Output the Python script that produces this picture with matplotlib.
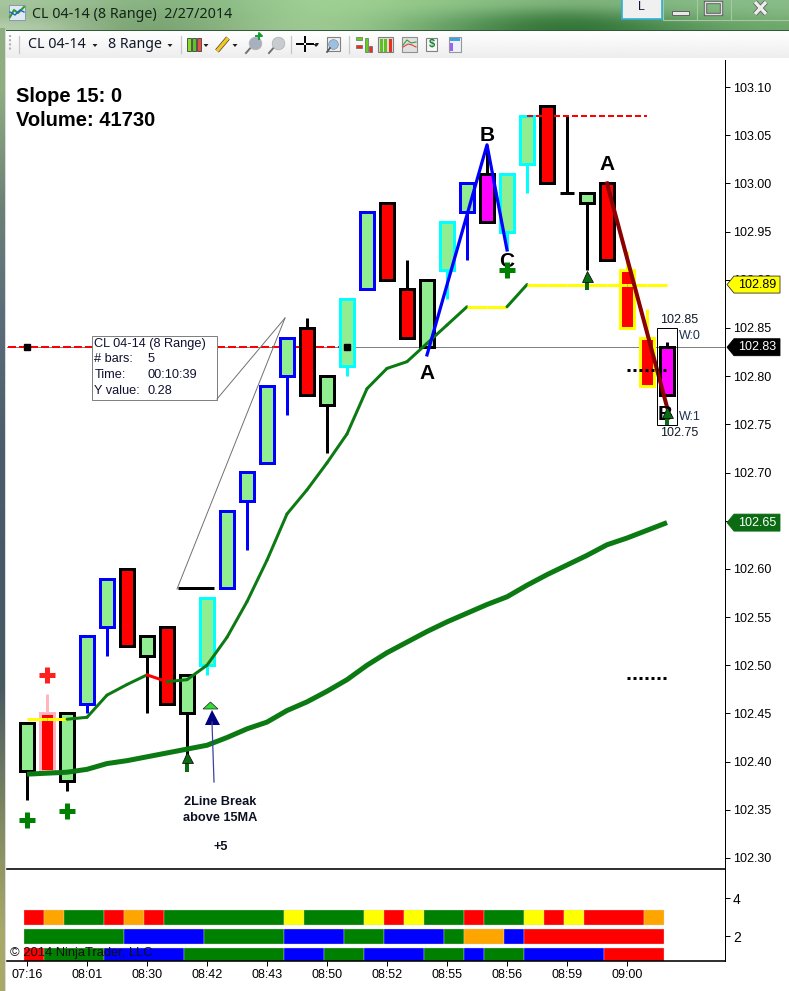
#!/usr/bin/env python3
"""NinjaTrader CL 04-14 8 Range chart, window frame included."""

import matplotlib
matplotlib.use("Agg")
import matplotlib.pyplot as plt
import numpy as np
from matplotlib.patches import Polygon, Rectangle

W, H = 789, 991
PX = 0.72  # 1 px in points at dpi 100
FS = 9
plt.rcParams["font.family"] = ["Liberation Sans", "DejaVu Sans"]

LG, RD, MG = "#90EE90", "#FF0000", "#FF00FF"
BK, BL, CY, PK, YL = "#000000", "#0000FF", "#00FFFF", "#FFB6C1", "#FFFF00"

# bars
body_top = [102.44, 102.45, 102.45, 102.53, 102.59, 102.60, 102.53, 102.54, 102.49, 102.57, 102.66,
            102.70, 102.79, 102.84, 102.85, 102.80, 102.88, 102.97, 102.98, 102.89, 102.90, 102.96,
            103.00, 103.01, 103.01, 103.07, 103.08, 102.99, 102.99, 103.00, 102.91, 102.84, 102.83]
body_bot = [102.39, 102.39, 102.38, 102.46, 102.54, 102.52, 102.51, 102.46, 102.45, 102.50, 102.58,
            102.67, 102.71, 102.80, 102.78, 102.77, 102.81, 102.89, 102.90, 102.84, 102.83, 102.91,
            102.97, 102.96, 102.95, 103.02, 103.00, 102.99, 102.98, 102.92, 102.85, 102.79, 102.78]
bar_high = [102.44, 102.47, 102.45, 102.53, 102.59, 102.60, 102.53, 102.54, 102.49, 102.57, 102.66,
            102.70, 102.79, 102.84, 102.86, 102.80, 102.88, 102.97, 102.98, 102.92, 102.90, 102.96,
            103.00, 103.04, 103.01, 103.07, 103.08, 103.07, 102.99, 103.00, 102.93, 102.87, 102.835]
bar_low = [102.36, 102.39, 102.37, 102.45, 102.51, 102.52, 102.45, 102.46, 102.39, 102.49, 102.58,
           102.62, 102.71, 102.76, 102.78, 102.72, 102.80, 102.89, 102.90, 102.84, 102.83, 102.88,
           102.92, 102.96, 102.93, 102.99, 103.00, 102.99, 102.91, 102.92, 102.85, 102.79, 102.78]
body_col = [LG, RD, LG, LG, LG, RD, LG, RD, LG, LG, LG, LG, LG, LG, RD, LG, LG, LG, RD, RD, LG, LG,
            LG, MG, LG, LG, RD, LG, LG, RD, RD, RD, MG]
edge_col = [BK, PK, BK, BL, BL, BK, BK, BK, BK, CY, BL, BL, BL, BL, BK, BK, CY, BL, BK, BK, BK, CY,
            BL, BK, CY, CY, BK, BK, BK, BK, YL, YL, BK]

# moving averages
ma_thin = [102.444, 102.444, 102.444, 102.446, 102.469, 102.480, 102.490, 102.483, 102.485, 102.500,
           102.529, 102.566, 102.609, 102.657, 102.682, 102.710, 102.740, 102.787, 102.808, 102.815,
           102.834, 102.853, 102.872, 102.872, 102.872, 102.895, 102.895, 102.895, 102.895, 102.895,
           102.895, 102.895, 102.895]
ma_thick = [102.387, 102.388, 102.389, 102.392, 102.398, 102.401, 102.405, 102.409, 102.413, 102.417,
            102.425, 102.434, 102.441, 102.453, 102.462, 102.473, 102.485, 102.500, 102.513, 102.524,
            102.535, 102.545, 102.554, 102.563, 102.571, 102.583, 102.594, 102.604, 102.614, 102.625,
            102.632, 102.640, 102.648]

# markers on the price panel
plus_bar = [0, 2, 24, 1]
plus_price = [102.339, 102.349, 102.910, 102.490]
plus_col = ["#008000", "#008000", "#008000", "#FF2020"]
arrow_bar = [8, 28, 32]
arrow_top = [102.405, 102.904, 102.763]
arrow_bot = [102.389, 102.889, 102.749]
abc_text = ["A", "B", "C", "A", "B"]
abc_bar = [20, 23, 24, 29, 31.9]
abc_price = [102.803, 103.05, 102.919, 103.02, 102.76]
wave_up_bar = [20, 23, 24]
wave_up_price = [102.822, 103.04, 102.931]
wave_dn_bar = [29, 32]
wave_dn_price = [103.00, 102.768]

price_ticks = [103.10, 103.05, 103.00, 102.95, 102.90, 102.85, 102.80, 102.75, 102.70, 102.65,
               102.60, 102.55, 102.50, 102.45, 102.40, 102.35, 102.30]
tags = [("102.89", 102.895, YL, BK), ("102.83", 102.83, BK, "white"), ("102.65", 102.648, "#0B6B12", "white")]

# lower panel, colour and run length of each row
row_vals = [2.97, 1.97, 0.97]
row_runs = [
    [(RD, 1), ("orange", 1), ("green", 2), (RD, 1), ("orange", 1), (RD, 1), ("green", 6), (YL, 1),
     ("green", 3), (YL, 1), (RD, 1), (YL, 1), ("green", 2), (RD, 1), ("green", 2), (YL, 1), (RD, 1),
     (YL, 1), (RD, 3), ("orange", 1)],
    [("green", 5), (BL, 4), ("green", 4), (BL, 3), ("green", 2), (BL, 3), ("green", 1), ("orange", 2),
     (BL, 1), (RD, 7)],
    [(RD, 1), ("green", 3), (BL, 4), ("green", 5), (BL, 2), ("green", 2), (BL, 3), ("green", 2), (BL, 1),
     ("green", 2), (BL, 4), (RD, 3)],
]
time_labels = ["07:16", "08:01", "08:30", "08:42", "08:43", "08:50", "08:52", "08:55", "08:56", "08:59", "09:00"]

fig = plt.figure(figsize=(W / 100, H / 100), dpi=100, facecolor="white")


def axes_px(x0, y0, x1, y1, z):
    return fig.add_axes([x0 / W, 1 - y1 / H, (x1 - x0) / W, (y1 - y0) / H], zorder=z)


# ---- window frame
bg = axes_px(0, 0, W, H, 0)
bg.axis("off")
title_cols = np.array([
    ["#a8c8a0", "#86b080", "#8ab884", "#a4d498", "#98cc8c", "#8ac084", "#7cb078", "#84b884", "#88bc88"],
    ["#9cbc90", "#7aa672", "#86b47e", "#a2d296", "#90c488", "#6aa46a", "#3c7c40", "#70a870", "#80b47e"],
    ["#b8d0b0", "#6f9a68", "#88b07e", "#a8d09c", "#88bc80", "#4e8c50", "#286a2c", "#4a8a4e", "#6ea86c"],
])
rgb = matplotlib.colors.to_rgba_array(title_cols.ravel())[:, :3].reshape(3, 9, 3)
bg.imshow(rgb, extent=(0, W, 30, 0), aspect="auto", interpolation="bicubic", zorder=1)
side_cols = ["#8fae80", "#6c8078", "#5a6a78", "#4c5c6c", "#485868", "#4a5a60", "#7c8660", "#a8a868"]
side = matplotlib.colors.to_rgba_array(side_cols)[:, :3].reshape(-1, 1, 3)
bg.imshow(side, extent=(0, 5, H, 28), aspect="auto", interpolation="bilinear", zorder=1)
bg.add_patch(Rectangle((5, 30), W, 1.5, fc="#2f5a38", ec="none", zorder=2))
grad = np.linspace(1, 0.93, 30).reshape(-1, 1)
bg.imshow(grad, extent=(6, W, 58, 31), aspect="auto", cmap="gray", vmin=0, vmax=1, zorder=2)
bg.set_xlim(0, W)
bg.set_ylim(H, 0)
bg.add_patch(Rectangle((5, 30), 1.2, H, fc="#d8dce0", ec="none", zorder=2))

bg.text(32, 14, "CL 04-14 (8 Range)  2/27/2014", fontsize=10.3, family="Noto Sans", color="#14241a", va="center", zorder=4)
bg.text(28, 45, "CL 04-14", fontsize=10.3, family="Noto Sans", color="#101828", va="center", zorder=4)
bg.text(108, 45, "8 Range", fontsize=10.2, family="Noto Sans", color="#101828", va="center", zorder=4)

# title and toolbar icons
bg.add_patch(Rectangle((9, 5), 16, 15, fc="#dfe8f4", ec="#8090a8", lw=0.6, zorder=4))
bg.plot([10, 14, 18, 24], [17, 10, 13, 7], color="#2aa02a", lw=1.5, zorder=5)
bg.plot([10, 15, 20, 24], [12, 15, 10, 12], color="#2060c0", lw=1, zorder=5)
for x in [95, 170, 206, 235, 316]:
    bg.add_patch(Polygon([(x - 2.5, 44), (x + 2.5, 44), (x, 47)], fc="#202020", ec="none", zorder=5))
for x in [19, 181, 291, 349]:
    bg.plot([x, x], [36, 53], color="#c8c8c8", lw=0.9, zorder=4)
bg.plot([10, 10], [35, 50], color="#b0b0b0", lw=1.5, ls=(0, (1, 1)), zorder=4)
for x, c in [(189, "#80e020"), (194, "#60c030"), (199, "#e85040")]:
    bg.add_patch(Rectangle((x - 2, 38), 4, 13, fc=c, ec="#404040", lw=0.6, zorder=5))
bg.plot([217, 228], [51, 38], color="#404040", lw=3.4, solid_capstyle="butt", zorder=5)
bg.plot([217, 228], [51, 38], color="#f4c820", lw=2.4, solid_capstyle="butt", zorder=5)
for x, c in [(253, "#a8b0c0"), (276, "#c8ccd0")]:
    bg.plot([x - 7, x], [53, 45], color="#707070", lw=1.4, zorder=5)
    bg.plot([x + 2], [43], "o", ms=9, mfc=c, mec="#b0b4b8", mew=0.6, zorder=5)
bg.plot([256, 262, 259, 259], [36, 36, 33, 39], color="#10a030", lw=1.4, zorder=6)
bg.plot([297, 303], [44, 44], color="k", lw=1.4, zorder=5)
bg.plot([307, 313], [44, 44], color="k", lw=1.4, zorder=5)
bg.plot([305, 305], [37, 42], color="k", lw=1.4, zorder=5)
bg.plot([305, 305], [46, 51], color="k", lw=1.4, zorder=5)
bg.add_patch(Polygon([(315, 43), (319, 43), (317, 46)], fc="#202020", ec="none", zorder=5))
bg.add_patch(Rectangle((327, 37), 13, 14, fc="#f0f0f0", ec="#808080", lw=0.8, zorder=4))
bg.plot([333], [44], "o", ms=7, mfc="#9cc0e0", mec="#8090a0", mew=0.5, zorder=5)
bg.plot([327, 330], [52, 48], color="#505050", lw=1.2, zorder=5)
for x, c, y0, y1 in [(356, "#60d020", 37, 40), (356, "#e83020", 45, 48), (365, "#60d020", 38, 52), (369, "#e83020", 46, 52)]:
    bg.add_patch(Rectangle((x, y0), 6 if x == 356 else 3, y1 - y0, fc=c, ec="#505050", lw=0.4, zorder=5))
bg.add_patch(Rectangle((378, 37), 15, 15, fc="#e0e0e0", ec="#808080", lw=0.8, zorder=4))
for x, c in [(381, "#60c020"), (385, "#60c020"), (390, "#e83020")]:
    bg.plot([x, x], [40, 50], color=c, lw=2.2, zorder=5)
bg.add_patch(Rectangle((402, 37), 15, 15, fc="#e0e0e0", ec="#909090", lw=0.8, zorder=4))
bg.plot([403, 407, 411, 416], [45, 40, 43, 42], color="#30a030", lw=0.8, zorder=5)
bg.plot([403, 408, 412, 416], [47, 44, 45, 47], color="#e04040", lw=0.8, zorder=5)
bg.add_patch(Rectangle((426, 38), 11, 13, fc="#f8f8f8", ec="#808080", lw=0.8, zorder=4))
bg.text(431.5, 44.5, "$", fontsize=8, weight="bold", color="#108030", ha="center", va="center", zorder=5)
bg.add_patch(Rectangle((449, 37), 12, 15, fc="#f0f0f8", ec="#9098a0", lw=0.8, zorder=4))
bg.add_patch(Rectangle((450, 38), 10, 3, fc="#40a0e0", ec="none", zorder=5))
bg.add_patch(Rectangle((450, 43), 3, 8, fc="#a060f0", ec="none", zorder=5))

# window buttons
bg.add_patch(Rectangle((622, -2), 40, 21, fc="#f0f0f0", ec="#30b0d8", lw=1.2, zorder=4))
bg.text(641, 7, "L", fontsize=9, color="#201040", ha="center", va="center", zorder=5)
bg.add_patch(Rectangle((663, -2), 126, 22, fc="none", ec="#a8c8a4", lw=0.8, zorder=3))
for x in [697, 731]:
    bg.plot([x, x], [0, 20], color="#a8c8a4", lw=0.8, zorder=3)
bg.add_patch(Rectangle((672, 10.5), 17, 4, fc="#e8e8e8", ec="#606060", lw=0.7, zorder=4))
bg.add_patch(Rectangle((705, 2), 16, 12, fc="none", ec="#606060", lw=2.4, zorder=4))
bg.add_patch(Rectangle((705, 2), 16, 12, fc="none", ec="#e0e0e0", lw=1.0, zorder=4))
for y0, y1 in [(2, 14), (14, 2)]:
    bg.plot([755, 766], [y0, y1], color="#606060", lw=3.6, solid_capstyle="butt", zorder=4)
    bg.plot([755, 766], [y0, y1], color="#eeeeee", lw=2.4, solid_capstyle="butt", zorder=5)

# ---- price panel
ax = axes_px(7, 60, 725, 869, 2)
ax.patch.set_alpha(0)
ax.set_xlim(-1, 34.9)
ax.set_ylim(103.10 - (869 - 87) / 963.75, 103.10 + (87 - 60) / 963.75)

ax.plot([-1, 34.9], [102.83, 102.83], color="#808080", lw=1 * PX, zorder=1)
ax.plot([-0.95, 16], [102.83, 102.83], color=RD, lw=2 * PX, ls=(0, (4, 1.5)), zorder=2)
ax.plot([25, 31], [103.07, 103.07], color=RD, lw=2 * PX, ls=(0, (3, 1.5)), zorder=6)
ax.plot([0, 16], [102.83, 102.83], "s", color="k", ms=4.5, zorder=6)

# bars first, ma lines over them
bars = np.arange(len(body_top))
ax.vlines(bars, bar_low, bar_high, colors=edge_col, lw=3 * PX, zorder=3)
ax.bar(bars, np.array(body_top) - np.array(body_bot), bottom=body_bot, width=0.66,
       color=body_col, edgecolor=edge_col, linewidth=3 * PX, zorder=4)

ax.plot(bars, ma_thick, color="#0B7A12", lw=5 * PX, zorder=5, solid_capstyle="butt")
for i in range(len(ma_thin) - 1):
    d = ma_thin[i + 1] - ma_thin[i]
    col = YL if d == 0 else (RD if d < 0 else "#0B7A12")
    ax.plot(bars[i:i + 2], ma_thin[i:i + 2], color=col, lw=3 * PX, zorder=5, solid_capstyle="round" if d else "butt")

ax.plot([7.55, 9.35], [102.58, 102.58], color="k", lw=3 * PX, zorder=4, solid_capstyle="butt")
ax.plot([30, 32], [102.806, 102.806], color="k", lw=3 * PX, ls=(0, (1, 1)), zorder=4)
ax.plot([30, 32], [102.487, 102.487], color="k", lw=3 * PX, ls=(0, (1, 1)), zorder=4)

ax.plot(wave_up_bar, wave_up_price, color=BL, lw=3.2 * PX, zorder=7)
ax.plot(wave_dn_bar, wave_dn_price, color="#8B0000", lw=4 * PX, zorder=7)

for s, b, p in zip(abc_text, abc_bar, abc_price):
    ax.text(b, p, s, fontsize=15, weight="bold", ha="center", va="center", color="k", zorder=7.5)
for b, p, c in zip(plus_bar, plus_price, plus_col):
    ax.plot([b], [p], "+", ms=16 * PX, mew=5 * PX, color=c, zorder=8)
for b, t, lo in zip(arrow_bar, arrow_top, arrow_bot):
    ax.plot([b, b], [lo, t], color="#0B6B12", lw=4 * PX, zorder=8, solid_capstyle="butt")
    ax.plot([b], [t], "^", ms=11 * PX, mfc="#0B6B12", mec="k", mew=0.5, zorder=8)

for sp in ["top", "left", "bottom"]:
    ax.spines[sp].set_visible(False)
ax.spines["right"].set_linewidth(1 * PX)
ax.yaxis.tick_right()
ax.set_yticks(price_ticks)
# 102.65 sits fully behind its price tag in the original
ax.set_yticklabels(["" if v == 102.65 else f"{v:.2f}" for v in price_ticks], fontsize=FS)
ax.tick_params(axis="y", length=5 * PX, width=1 * PX, pad=3 * PX)
ax.set_xticks([])

# ---- lower panel
low = axes_px(7, 869, 725, 961, 2)
low.set_xlim(-1, 34.9)
low.set_ylim(2 - 25 / 19, 4 + 29 / 19)
low.patch.set_alpha(0)
for v, runs in zip(row_vals, row_runs):
    start = -0.15
    for col, n in runs:
        low.barh(v, n, left=start, height=0.79, color=col, edgecolor="#d8d8d8", linewidth=0.25)
        start += n
low.spines["left"].set_visible(False)
low.spines["top"].set_linewidth(1.6 * PX)
low.spines["right"].set_linewidth(1 * PX)
low.spines["bottom"].set_linewidth(1.6 * PX)
low.yaxis.tick_right()
low.set_yticks([4, 2])
low.set_yticklabels(["4", "2"], fontsize=FS + 1)
low.set_xticks(np.arange(len(time_labels)) * 3)
low.set_xticklabels(time_labels, fontsize=FS)
low.tick_params(axis="both", length=5 * PX, width=1 * PX, pad=3 * PX)

# ---- drawing tools, text, price tags
fg = axes_px(0, 0, W, H, 3)
fg.set_xlim(0, W)
fg.set_ylim(H, 0)
fg.axis("off")
fg.text(16, 97, "Slope 15: 0", fontsize=14.5, weight="bold", va="center", color="k")
fg.text(16, 120, "Volume: 41730", fontsize=14.5, weight="bold", va="center", color="k")
fg.plot([177, 285], [589, 318], color="#707070", lw=0.7)
fg.plot([217, 285], [399, 318], color="#707070", lw=0.7)
fg.add_patch(Rectangle((92.5, 335.5), 125, 64, fc="white", ec="#808080", lw=1 * PX))
for j, (a, b) in enumerate([("CL 04-14 (8 Range)", ""), ("# bars:", "5"), ("Time:", "00:10:39"), ("Y value:", "0.28")]):
    fg.text(94.5, 343.5 + j * 16, a, fontsize=9.2, va="center", color="#101030")
    fg.text(148, 343.5 + j * 16, b, fontsize=9.2, va="center", color="#101030")
fg.add_patch(Rectangle((657.5, 328), 20, 97, fc="none", ec="k", lw=1 * PX, zorder=3))
fg.text(679, 320, "102.85", fontsize=FS, ha="center", va="center", color="#101828")
fg.text(679, 336, "W:0", fontsize=FS, va="center", color="#1c3050")
fg.text(679, 417, "W:1", fontsize=FS, va="center", color="#1c3050")
fg.text(679, 433, "102.75", fontsize=FS, ha="center", va="center", color="#101828")

fg.text(220.5, 802, "2Line Break", fontsize=9.2, weight="bold", ha="center", va="center", color="#0c1020")
fg.text(220.5, 818, "above 15MA", fontsize=9.2, weight="bold", ha="center", va="center", color="#0c1020")
fg.text(220.5, 847, "+5", fontsize=9.2, weight="bold", ha="center", va="center", color="#0c1020")
fg.plot([214, 212], [782, 722], color="#4040a0", lw=0.9)
fg.add_patch(Polygon([(205, 725), (220, 725), (212, 710)], fc="#000080", ec="none"))
fg.add_patch(Polygon([(203, 709), (218, 709), (210.5, 702)], fc="#30E030", ec="#202020", lw=0.5))

fg.text(10, 953, "© 2014 NinjaTrader, LLC", fontsize=9.3, va="center", color="#101010")

for txt, p, fc, tc in tags:
    y = 87 + (103.10 - p) * 963.75
    fg.add_patch(Polygon([(727, y), (734, y - 8.5), (780, y - 8.5), (780, y + 8.5), (734, y + 8.5)],
                         fc=fc, ec="#303030" if fc == YL else fc, lw=0.6))
    fg.text(757, y, txt, fontsize=FS, ha="center", va="center", color=tc)

fig.savefig("out.png", dpi=100, facecolor="white")
